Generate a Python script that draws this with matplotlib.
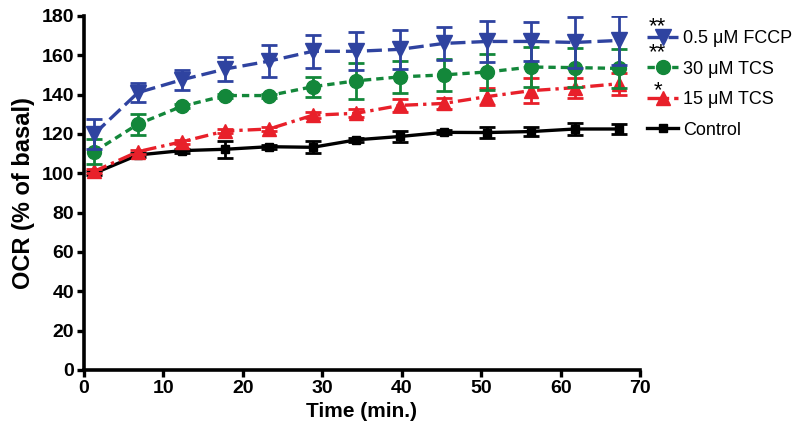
import numpy as np
import matplotlib
matplotlib.use("Agg")
import matplotlib.pyplot as plt
from matplotlib.lines import Line2D

plt.rcParams['font.family'] = ['Liberation Sans', 'DejaVu Sans']

time = [1.3, 6.8, 12.3, 17.8, 23.3, 28.8, 34.3, 39.8, 45.3, 50.8, 56.3, 61.8, 67.3]

fccp = [120, 141, 147.5, 153, 157, 162, 162, 163, 166, 167, 167, 166.5, 167.5]
fccp_err = [7.5, 4.7, 5, 6, 8, 8.5, 9.7, 10, 8.5, 10.5, 10, 13, 12.5]

tcs30 = [111, 125, 134, 139.5, 139.5, 144, 147, 149, 150, 151.5, 154, 153.7, 153.3]
tcs30_err = [6.5, 5.3, 1, 1, 1, 5, 9, 8, 8, 9, 10, 10, 10]

tcs15 = [101, 111, 116, 121.5, 122.5, 129.5, 130.5, 134.5, 135.5, 139, 142, 143.5, 145.5]
tcs15_err = [1, 1, 1, 1, 1, 1.5, 2, 3.5, 3, 4.5, 6.5, 5, 5.5]

control = [100, 109.3, 111.5, 112.2, 113.5, 113.2, 117, 118.7, 120.8, 120.7, 121.2, 122.5, 122.5]
control_err = [1, 1, 1, 4.3, 1, 3, 1, 3, 1, 2.8, 2.5, 3, 2.5]

labels = ['0.5 μM FCCP', '30 μM TCS', '15 μM TCS', 'Control']
stars = ['**', '**', '*', '']

fig = plt.figure(figsize=(8, 4.41), dpi=100)
ax = fig.add_axes([0.105, 0.161, 0.695, 0.803])

# drawn bottom to top: control, 15 TCS, 30 TCS, FCCP
series = [
    (control, control_err, 'black', '-', 's', 6),
    (tcs15, tcs15_err, '#e8202a', (0, (4, 1.5, 1, 1.5)), '^', 10),
    (tcs30, tcs30_err, '#13873a', (0, (2.2, 1.5)), 'o', 10),
    (fccp, fccp_err, '#2f43a0', (0, (4.5, 1.8)), 'v', 11),
]
handles = {}
for i, (y, e, c, ls, m, ms) in enumerate(series):
    ax.errorbar(time, y, yerr=e, color=c, ls=ls, lw=2.4, marker=m, ms=ms,
                mec=c, elinewidth=2, capsize=6, capthick=2, zorder=3 + i)
    handles[c] = Line2D([], [], color=c, ls=ls, lw=2.4, marker=m, ms=ms, mec=c)

ax.set_xlim(0, 70)
ax.set_ylim(0, 180)
ax.set_xticks(np.arange(0, 71, 10))
ax.set_yticks(np.arange(0, 181, 20))
for s in ['top', 'right']:
    ax.spines[s].set_visible(False)
for s in ['left', 'bottom']:
    ax.spines[s].set_linewidth(2.6)
ax.tick_params(width=2.4, length=5, labelsize=14, pad=2)
for t in ax.get_xticklabels() + ax.get_yticklabels():
    t.set_fontweight('bold')
ax.set_xlabel('Time (min.)', fontsize=15, fontweight='bold', labelpad=4)
ax.set_ylabel('OCR (% of basal)', fontsize=17, fontweight='bold', labelpad=5)

order = [handles['#2f43a0'], handles['#13873a'], handles['#e8202a'], handles['black']]
leg = ax.legend(order, labels, loc='upper left', bbox_to_anchor=(1.0, 0.98),
                frameon=False, fontsize=13, handlelength=1.7, handletextpad=0.3,
                labelspacing=0.75, borderaxespad=0.0)

for txt, yy in zip(stars, [0.97, 0.895, 0.79]):
    if txt:
        ax.text(1.032, yy, txt, fontsize=16, ha='center', va='center',
                transform=ax.transAxes, clip_on=False)

fig.savefig('out.png', dpi=100)
